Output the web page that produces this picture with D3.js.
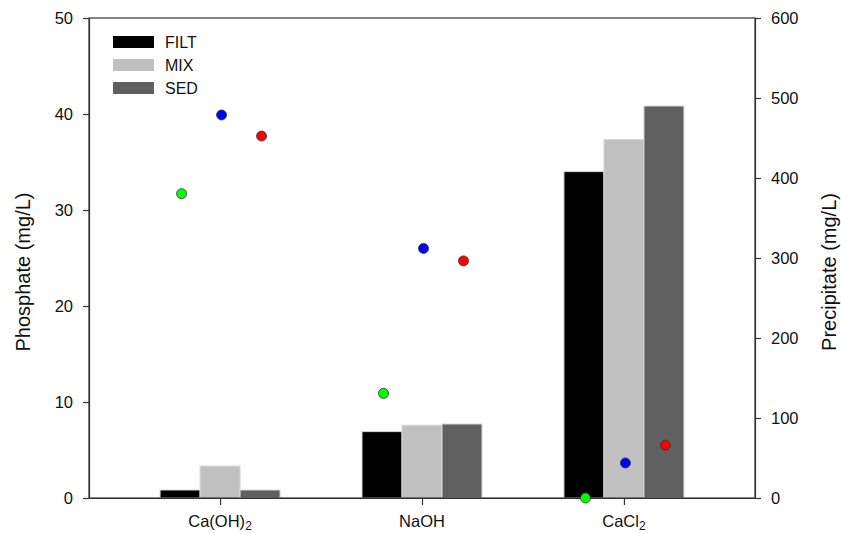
<!DOCTYPE html>
<html><head><meta charset="utf-8">
<script src="https://cdn.jsdelivr.net/npm/d3@7"></script>
<style>body{margin:0;background:#fff;} text{font-family:"Liberation Sans",Arial,sans-serif;fill:#111;}</style>
</head><body><svg id="c" width="841" height="534"></svg>
<script>
const categories = ["Ca(OH)2", "NaOH", "CaCl2"];
const seriesNames = ["FILT", "MIX", "SED"];
const seriesColors = ["#000000", "#c0c0c0", "#606060"];
// Precipitate (mg/L), bars on right axis
const precipFILT = [10, 83, 408];
const precipMIX = [40, 91, 448];
const precipSED = [10, 92.5, 490];
// Phosphate (mg/L), points on left axis
const phosFILT = [31.7, 10.9, 0.0];
const phosMIX = [39.9, 26.0, 3.65];
const phosSED = [37.7, 24.7, 5.5];
const dotColors = ["#00ff00", "#0000ff", "#ff0000"];
const leftTicks = [0, 10, 20, 30, 40, 50];
const rightTicks = [0, 100, 200, 300, 400, 500, 600];

const svg = d3.select("#c");
const L = 89, R = 755, T = 18, B = 498;
const x = d3.scalePoint().domain(categories).range([L, R]).padding(0.649);
const xs = d3.scaleBand().domain(seriesNames).range([-60, 60]);
const yL = d3.scaleLinear().domain([0, 50]).range([B, T]);
const yR = d3.scaleLinear().domain([0, 600]).range([B, T]);

const precip = [precipFILT, precipMIX, precipSED];
const phos = [phosFILT, phosMIX, phosSED];

// bars
seriesNames.forEach((s, si) => {
  svg.append("g").selectAll("rect").data(categories).join("rect")
    .attr("x", c => x(c) + xs(s))
    .attr("width", xs.bandwidth())
    .attr("y", (c, i) => yR(precip[si][i]))
    .attr("height", (c, i) => B - yR(precip[si][i]))
    .attr("fill", seriesColors[si])
    .attr("stroke", "#d8d8d8").attr("stroke-width", 1);
});

// frame
svg.append("rect").attr("x", L).attr("y", T).attr("width", R - L).attr("height", B - T)
  .attr("fill", "none").attr("stroke", "#333").attr("stroke-width", 1.2);

// axes
const fs = "16.5px";
const gl = svg.append("g").attr("transform", `translate(${L},0)`)
  .call(d3.axisLeft(yL).tickValues(leftTicks).tickSize(6).tickSizeOuter(0).tickPadding(10));
const gr = svg.append("g").attr("transform", `translate(${R},0)`)
  .call(d3.axisRight(yR).tickValues(rightTicks).tickSize(6).tickSizeOuter(0).tickPadding(10));
const gb = svg.append("g").attr("transform", `translate(0,${B})`)
  .call(d3.axisBottom(x).tickSize(7).tickSizeOuter(0).tickFormat(""));
[gl, gr, gb].forEach(g => {
  g.select(".domain").attr("stroke", "#333").attr("stroke-width", 1.2);
  g.selectAll(".tick line").attr("stroke", "#333").attr("stroke-width", 1.2);
  g.selectAll(".tick text").style("font-size", fs).attr("fill", "#111")
    .style("font-family", "'Liberation Sans',Arial,sans-serif");
});

// category labels with subscripts
categories.forEach(c => {
  const t = svg.append("text").attr("x", x(c)).attr("y", 527)
    .attr("text-anchor", "middle").style("font-size", fs);
  const m = c.match(/^(.*?)(\d)$/);
  if (m) {
    t.append("tspan").text(m[1]);
    t.append("tspan").text(m[2]).attr("dy", 3).style("font-size", "12px");
  } else t.text(c);
});

// dots
seriesNames.forEach((s, si) => {
  svg.append("g").selectAll("circle").data(categories).join("circle")
    .attr("cx", c => x(c) + xs(s) + xs.bandwidth() / 2 + 1.5)
    .attr("cy", (c, i) => yL(phos[si][i]))
    .attr("r", 5)
    .attr("fill", dotColors[si])
    .attr("stroke", "#333").attr("stroke-width", 0.8);
});

// axis titles
svg.append("text").attr("transform", `translate(30,${(T + B) / 2 + 14}) rotate(-90)`)
  .attr("text-anchor", "middle").style("font-size", "20px").text("Phosphate (mg/L)");
svg.append("text").attr("transform", `translate(836,${(T + B) / 2 + 14}) rotate(-90)`)
  .attr("text-anchor", "middle").style("font-size", "20px").text("Precipitate (mg/L)");

// legend
const lg = svg.append("g");
seriesNames.forEach((s, i) => {
  lg.append("rect").attr("x", 113).attr("y", 36 + i * 23).attr("width", 41).attr("height", 12)
    .attr("fill", seriesColors[i]);
  lg.append("text").attr("x", 165).attr("y", 48 + i * 23).style("font-size", "16px").text(s);
});
</script></body></html>
